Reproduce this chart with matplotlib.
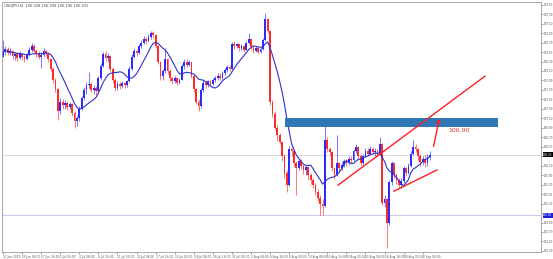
import numpy as np
import pandas as pd
import matplotlib
matplotlib.use('Agg')
import matplotlib.pyplot as plt

# USDJPY candles (close / high / low), open = previous close
closes = [108.50, 108.56, 108.47, 108.52, 108.41, 108.45, 108.38, 108.46, 108.40, 108.36,
          108.44, 108.55, 108.62, 108.52, 108.48, 108.40, 108.44, 108.52, 108.45, 108.35,
          108.15, 107.90, 107.72, 107.25, 107.45, 107.38, 107.42, 107.33, 107.40, 107.22,
          107.05, 107.10, 107.30, 107.52, 107.70, 107.80, 107.82, 107.70, 107.75, 107.68,
          107.95, 108.20, 108.45, 108.38, 108.42, 108.15, 107.92, 107.75, 107.82, 107.78,
          107.84, 107.80, 107.88, 108.15, 108.40, 108.52, 108.48, 108.62, 108.70, 108.78,
          108.74, 108.82, 108.90, 108.86, 108.62, 108.30, 108.00, 108.10, 108.35, 108.10,
          107.95, 107.88, 107.95, 107.85, 107.92, 108.20, 108.30, 108.22, 108.28, 108.00,
          107.72, 107.45, 107.35, 107.70, 107.85, 107.80, 107.88, 107.82, 107.90, 107.95,
          108.00, 107.96, 108.05, 108.12, 108.18, 108.15, 108.68, 108.62, 108.66, 108.58,
          108.62, 108.55, 108.70, 108.78, 108.60, 108.52, 108.58, 108.50, 108.56, 108.75,
          109.20, 108.95, 107.45, 107.20, 106.90, 106.75, 106.60, 106.30, 105.95, 105.70,
          106.45, 106.40, 106.15, 106.05, 106.20, 106.10, 106.00, 106.08, 105.90, 105.80,
          105.70, 105.55, 105.42, 105.30, 105.25, 106.65, 106.45, 106.38, 106.05, 105.90,
          106.15, 106.05, 106.12, 106.20, 106.15, 106.25, 106.22, 106.40, 106.50, 106.30,
          106.15, 106.30, 106.42, 106.35, 106.45, 106.38, 106.42, 106.35, 106.55, 105.32,
          105.40, 104.88, 105.75, 106.15, 105.90, 105.80, 105.70, 105.78, 106.05, 105.95,
          106.10, 106.35, 106.50, 106.45, 106.30, 106.18, 106.25, 106.15, 106.28, 106.33]
highs = [108.76, 108.62, 108.60, 108.58, 108.55, 108.50, 108.50, 108.52, 108.49, 108.44,
         108.48, 108.60, 108.70, 108.66, 108.56, 108.52, 108.50, 108.58, 108.55, 108.48,
         108.38, 108.18, 107.95, 107.75, 107.52, 107.50, 107.48, 107.46, 107.45, 107.42,
         107.25, 107.15, 107.35, 107.58, 107.76, 107.86, 108.08, 107.86, 107.80, 107.78,
         108.00, 108.26, 108.50, 108.52, 108.48, 108.44, 108.18, 107.95, 107.88, 107.86,
         107.88, 107.86, 107.92, 108.20, 108.45, 108.58, 108.56, 108.66, 108.76, 108.83,
         108.82, 108.88, 108.95, 108.94, 108.88, 108.64, 108.32, 108.15, 108.59, 108.38,
         108.14, 107.98, 108.00, 107.98, 107.96, 108.25, 108.36, 108.35, 108.33, 108.30,
         108.02, 107.74, 107.50, 107.75, 107.90, 107.90, 107.92, 107.90, 107.95, 108.00,
         108.05, 108.05, 108.10, 108.16, 108.22, 108.22, 108.72, 108.74, 108.70, 108.68,
         108.66, 108.64, 108.74, 108.90, 108.80, 108.62, 108.62, 108.60, 108.60, 108.80,
         109.32, 109.22, 108.96, 107.48, 107.25, 106.95, 106.80, 106.62, 106.35, 106.00,
         106.52, 106.50, 106.42, 106.20, 106.25, 106.24, 106.14, 106.12, 106.10, 105.95,
         105.85, 105.74, 105.60, 105.48, 105.40, 106.96, 106.70, 106.50, 106.40, 106.08,
         106.75, 106.18, 106.18, 106.25, 106.24, 106.30, 106.30, 106.45, 106.56, 106.52,
         106.32, 106.35, 106.48, 106.48, 106.52, 106.50, 106.48, 106.46, 106.71, 106.58,
         105.48, 105.42, 105.80, 106.20, 106.18, 105.95, 105.85, 105.84, 106.10, 106.08,
         106.16, 106.40, 106.64, 106.55, 106.48, 106.34, 106.30, 106.32, 106.34, 106.40]
lows = [108.42, 108.44, 108.43, 108.44, 108.36, 108.33, 108.32, 108.35, 108.34, 108.30,
        108.33, 108.41, 108.50, 108.48, 108.40, 108.35, 108.17, 108.40, 108.42, 108.30,
        108.10, 107.85, 107.65, 107.07, 107.20, 107.30, 107.30, 107.28, 107.30, 107.15,
        106.90, 106.93, 107.05, 107.28, 107.48, 107.62, 107.74, 107.65, 107.62, 107.60,
        107.66, 107.92, 108.18, 108.32, 108.30, 108.10, 107.85, 107.68, 107.70, 107.72,
        107.75, 107.74, 107.76, 107.86, 108.12, 108.38, 108.42, 108.45, 108.58, 108.66,
        108.68, 108.72, 108.78, 108.80, 108.58, 108.25, 107.92, 107.90, 108.05, 108.04,
        107.88, 107.82, 107.84, 107.80, 107.82, 107.90, 108.15, 108.18, 108.20, 107.95,
        107.65, 107.40, 107.25, 107.32, 107.66, 107.74, 107.76, 107.78, 107.80, 107.86,
        107.90, 107.92, 107.94, 108.02, 108.08, 108.10, 108.14, 108.56, 108.58, 108.52,
        108.54, 108.50, 108.54, 108.66, 108.56, 108.48, 108.50, 108.46, 108.48, 108.54,
        108.74, 108.90, 107.38, 107.12, 106.85, 106.62, 106.55, 106.20, 105.85, 105.54,
        105.68, 106.30, 106.10, 105.48, 106.00, 106.02, 105.92, 105.90, 105.80, 105.72,
        105.62, 105.48, 105.35, 105.06, 105.05, 105.22, 106.38, 106.30, 105.98, 105.82,
        105.88, 105.98, 106.00, 106.08, 106.10, 106.12, 106.16, 106.20, 106.36, 106.25,
        106.10, 106.12, 106.28, 106.30, 106.32, 106.34, 106.30, 106.30, 106.32, 105.28,
        105.22, 104.36, 104.85, 105.70, 105.85, 105.72, 105.62, 105.62, 105.74, 105.88,
        105.92, 106.08, 106.32, 106.38, 106.22, 106.10, 106.12, 106.08, 106.10, 106.22]
first_open = 108.40

date_labels = ["21 Jun 2019", "25 Jun 08:00", "27 Jun 16:00", "2 Jul 00:00", "4 Jul 08:00",
               "8 Jul 16:00", "11 Jul 00:00", "15 Jul 08:00", "17 Jul 16:00", "22 Jul 00:00",
               "24 Jul 08:00", "26 Jul 16:00", "31 Jul 00:00", "2 Aug 08:00", "6 Aug 16:00",
               "9 Aug 00:00", "13 Aug 08:00", "15 Aug 16:00", "20 Aug 00:00", "22 Aug 08:00",
               "26 Aug 16:00", "29 Aug 00:00", "2 Sep 08:00"]

# drawn objects
zone_low, zone_high = 106.92, 107.11
zone_start, zone_end = 118.2, 207.5
support_level = 105.05
last_price = 106.33
up_line_x, up_line_y = [140.5, 202.1], [105.69, 107.99]
low_line_x, low_line_y = [163.9, 182.0], [105.56, 106.01]
arrow_x, arrow_y = [180.3, 183.2], [106.45, 107.15]
target_label = "106.90"

bull, bear = '#2b2bff', '#ff2b2b'

opens = [first_open] + closes[:-1]
df = pd.DataFrame({'o': opens, 'h': highs, 'l': lows, 'c': closes})
ma = df['c'].rolling(10, min_periods=1).mean()
idx = np.arange(len(df))
up = (df['c'] >= df['o']).values
cols = np.where(up, bull, bear)

fig = plt.figure(figsize=(5.53, 2.59), dpi=100)
ax = fig.add_axes([2/553, 7/259, 539/553, 250/259])

ax.axhline(last_price, color='#d4d4d4', lw=0.6, zorder=0)
ax.axhline(support_level, color='#c0c0f0', lw=0.6, zorder=0)

ax.vlines(idx, df['l'], df['h'], colors=cols, lw=0.6, alpha=0.75)
body = np.maximum((df['c'] - df['o']).abs(), 0.012)
ax.bar(idx, body, bottom=np.minimum(df['o'], df['c']), width=0.75, color=cols, lw=0)
ax.plot(idx, ma, color='#3030c8', lw=0.8)

ax.fill_between([zone_start, zone_end], zone_low, zone_high, color='#2f76b5', lw=0, zorder=3)

ax.plot(up_line_x, up_line_y, color='#ff2020', lw=1.0, zorder=4)
ax.plot(low_line_x, low_line_y, color='#ff2020', lw=1.0, zorder=4)
ax.annotate('', xy=(arrow_x[1], arrow_y[1]), xytext=(arrow_x[0], arrow_y[0]),
            arrowprops=dict(arrowstyle='-|>', color='#ff2020', lw=1.0, mutation_scale=5), zorder=4)
ax.text(186.6, 106.85, target_label, color='#e03a3a', fontsize=4.5, va='center', ha='left')

ax.set_xlim(-0.42, 225.6)
ax.set_ylim(104.277, 109.557)

yt = np.arange(104.3, 109.51, 0.2)
# labels that the price boxes cover are left blank
ylabs = ['' if min(abs(v - last_price), abs(v - support_level)) < 0.08 else f'{v:.2f}' for v in yt]
ax.yaxis.tick_right()
ax.set_yticks(yt)
ax.set_yticklabels(ylabs)
ax.set_xticks(np.arange(0, len(df), 8))
ax.set_xticklabels(date_labels, ha='left')
ax.tick_params(axis='y', labelsize=2.0, length=1.5, width=0.4, pad=0.6, colors='#555555')
ax.tick_params(axis='x', labelsize=2.1, length=1.5, width=0.4, pad=0.6, colors='#555555')

for s in ax.spines.values():
    s.set_color('#9a9a9a')
    s.set_linewidth(0.6)

tr = ax.get_yaxis_transform()
ax.text(1.004, last_price, f'{last_price:.2f}', transform=tr, fontsize=2.0, color='white',
        va='center', ha='left', bbox=dict(boxstyle='square,pad=0.2', fc='black', ec='none'))
ax.text(1.004, support_level, f'{support_level:.2f}', transform=tr, fontsize=2.0, color='white',
        va='center', ha='left', bbox=dict(boxstyle='square,pad=0.2', fc='#2020d0', ec='none'))

fig.text(0.008, 0.985, 'USDJPY,H4  106.228 106.399 106.196 106.331', fontsize=2.6,
         color='#444444', va='top', ha='left')

fig.savefig('out.png', dpi=100)
